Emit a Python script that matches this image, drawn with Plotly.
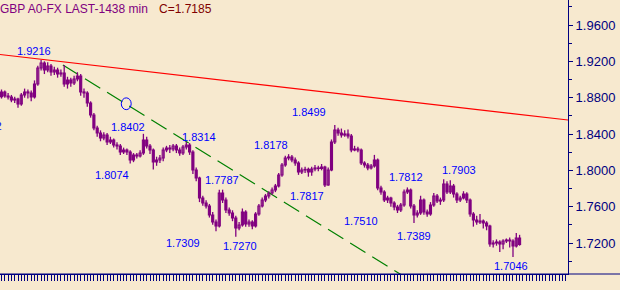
import plotly.graph_objects as go

# ---- data (GBP, 1438-min bars) ----
opens = [1.8810,1.8863,1.8818,1.8807,1.8774,1.8785,1.8730,1.8829,1.8863,1.8852,
 1.8807,1.8951,1.9127,1.9182,1.9105,1.9149,1.9083,1.9105,1.9061,1.9072,
 1.8951,1.8995,1.8962,1.9006,1.9039,1.8863,1.8852,1.8741,1.8609,1.8466,
 1.8411,1.8356,1.8389,1.8312,1.8334,1.8279,1.8268,1.8202,1.8224,1.8202,
 1.8114,1.8169,1.8158,1.8191,1.8334,1.8268,1.8224,1.8092,1.8114,1.8136,
 1.8224,1.8246,1.8235,1.8268,1.8224,1.8191,1.8257,1.8279,1.8202,1.8004,
 1.7916,1.7695,1.7640,1.7607,1.7508,1.7431,1.7387,1.7751,1.7673,1.7563,
 1.7530,1.7475,1.7365,1.7398,1.7541,1.7409,1.7431,1.7387,1.7519,1.7607,
 1.7673,1.7717,1.7751,1.7784,1.7828,1.7949,1.8059,1.8136,1.8147,1.8114,
 1.8081,1.7982,1.8004,1.8010,1.7982,1.8015,1.8026,1.8020,1.8037,1.7839,
 1.8004,1.8312,1.8444,1.8411,1.8389,1.8400,1.8378,1.8224,1.8235,1.8224,
 1.8081,1.8059,1.8026,1.8048,1.8114,1.7806,1.7762,1.7673,1.7695,1.7640,
 1.7596,1.7563,1.7618,1.7762,1.7784,1.7607,1.7508,1.7530,1.7673,1.7541,
 1.7519,1.7618,1.7717,1.7662,1.7673,1.7850,1.7762,1.7828,1.7739,1.7673,
 1.7695,1.7739,1.7673,1.7519,1.7453,1.7431,1.7442,1.7420,1.7387,1.7189,
 1.7200,1.7211,1.7189,1.7222,1.7233,1.7222,1.7167,1.7255]

highs = [1.8890,1.8880,1.8850,1.8830,1.8810,1.8800,1.8850,1.8900,1.8890,1.8880,
 1.8990,1.9150,1.9216,1.9200,1.9190,1.9170,1.9140,1.9130,1.9110,1.9160,
 1.9030,1.9020,1.9040,1.9080,1.9060,1.8900,1.8870,1.8760,1.8630,1.8490,
 1.8440,1.8420,1.8410,1.8370,1.8350,1.8310,1.8290,1.8250,1.8240,1.8220,
 1.8190,1.8190,1.8220,1.8402,1.8370,1.8290,1.8240,1.8150,1.8170,1.8250,
 1.8270,1.8280,1.8290,1.8290,1.8250,1.8280,1.8314,1.8300,1.8220,1.8030,
 1.7930,1.7720,1.7670,1.7630,1.7540,1.7460,1.7787,1.7787,1.7700,1.7590,
 1.7560,1.7500,1.7430,1.7580,1.7560,1.7460,1.7450,1.7540,1.7630,1.7700,
 1.7740,1.7770,1.7810,1.7850,1.7970,1.8080,1.8160,1.8178,1.8170,1.8140,
 1.8100,1.8030,1.8040,1.8030,1.8040,1.8060,1.8050,1.8070,1.8050,1.8030,
 1.8340,1.8499,1.8470,1.8460,1.8440,1.8450,1.8400,1.8270,1.8260,1.8240,
 1.8100,1.8080,1.8070,1.8170,1.8130,1.7830,1.7780,1.7720,1.7710,1.7660,
 1.7620,1.7640,1.7790,1.7812,1.7800,1.7630,1.7560,1.7720,1.7690,1.7570,
 1.7650,1.7750,1.7740,1.7700,1.7903,1.7880,1.7890,1.7850,1.7760,1.7720,
 1.7770,1.7760,1.7690,1.7540,1.7500,1.7520,1.7460,1.7440,1.7400,1.7230,
 1.7240,1.7230,1.7240,1.7250,1.7260,1.7240,1.7310,1.7290]

lows = [1.8790,1.8800,1.8780,1.8750,1.8740,1.8690,1.8710,1.8800,1.8790,1.8760,
 1.8790,1.8930,1.9100,1.9060,1.9080,1.9040,1.9050,1.9020,1.9030,1.8920,
 1.8900,1.8920,1.8940,1.8980,1.8820,1.8800,1.8700,1.8580,1.8440,1.8370,
 1.8320,1.8330,1.8280,1.8290,1.8250,1.8230,1.8170,1.8180,1.8170,1.8074,
 1.8090,1.8130,1.8140,1.8170,1.8240,1.8180,1.8010,1.8050,1.8080,1.8100,
 1.8200,1.8190,1.8210,1.8190,1.8160,1.8170,1.8230,1.8170,1.7960,1.7880,
 1.7650,1.7610,1.7580,1.7480,1.7400,1.7330,1.7370,1.7640,1.7530,1.7500,
 1.7440,1.7270,1.7340,1.7380,1.7380,1.7380,1.7350,1.7370,1.7500,1.7590,
 1.7650,1.7690,1.7730,1.7760,1.7810,1.7930,1.8040,1.8110,1.8090,1.8050,
 1.7950,1.7960,1.7970,1.7930,1.7940,1.7990,1.7990,1.8000,1.7817,1.7830,
 1.7990,1.8290,1.8380,1.8360,1.8370,1.8350,1.8200,1.8210,1.8200,1.8060,
 1.8030,1.8000,1.8010,1.8030,1.7780,1.7730,1.7650,1.7640,1.7600,1.7560,
 1.7530,1.7540,1.7600,1.7740,1.7580,1.7420,1.7480,1.7510,1.7510,1.7490,
 1.7500,1.7600,1.7640,1.7620,1.7650,1.7740,1.7740,1.7700,1.7640,1.7650,
 1.7680,1.7640,1.7490,1.7380,1.7400,1.7410,1.7360,1.7340,1.7160,1.7150,
 1.7170,1.7100,1.7130,1.7200,1.7150,1.7046,1.7150,1.7170]

closes = [1.8863,1.8818,1.8807,1.8774,1.8785,1.8730,1.8829,1.8863,1.8852,1.8807,
 1.8951,1.9127,1.9182,1.9105,1.9149,1.9083,1.9105,1.9061,1.9072,1.8951,
 1.8995,1.8962,1.9006,1.9039,1.8863,1.8852,1.8741,1.8609,1.8466,1.8411,
 1.8356,1.8389,1.8312,1.8334,1.8279,1.8268,1.8202,1.8224,1.8202,1.8114,
 1.8169,1.8158,1.8191,1.8334,1.8268,1.8224,1.8092,1.8114,1.8136,1.8224,
 1.8246,1.8235,1.8268,1.8224,1.8191,1.8257,1.8279,1.8202,1.8004,1.7916,
 1.7695,1.7640,1.7607,1.7508,1.7431,1.7387,1.7751,1.7673,1.7563,1.7530,
 1.7475,1.7365,1.7398,1.7541,1.7409,1.7431,1.7387,1.7519,1.7607,1.7673,
 1.7717,1.7751,1.7784,1.7828,1.7949,1.8059,1.8136,1.8147,1.8114,1.8081,
 1.7982,1.8004,1.8010,1.7982,1.8015,1.8026,1.8020,1.8037,1.7839,1.8004,
 1.8312,1.8444,1.8411,1.8389,1.8400,1.8378,1.8224,1.8235,1.8224,1.8081,
 1.8059,1.8026,1.8048,1.8114,1.7806,1.7762,1.7673,1.7695,1.7640,1.7596,
 1.7563,1.7618,1.7762,1.7784,1.7607,1.7508,1.7530,1.7673,1.7541,1.7519,
 1.7618,1.7717,1.7662,1.7673,1.7850,1.7762,1.7828,1.7739,1.7673,1.7695,
 1.7739,1.7673,1.7519,1.7453,1.7431,1.7442,1.7420,1.7387,1.7189,1.7200,
 1.7211,1.7189,1.7222,1.7233,1.7222,1.7167,1.7255,1.7185]

bars = list(range(len(closes)))

# pivot labels: text, bar position, price position
pivot_text = ["1.9216", "1.8402", "1.8074", "1.8314", "1.7787", "1.7309", "1.7270",
              "1.8178", "1.7817", "1.8499", "1.7510", "1.7812", "1.7389", "1.7903", "1.7046"]
pivot_x = [9.9, 38.3, 33.5, 59.8, 66.8, 55.0, 72.3, 81.7, 92.6, 93.2, 109.0, 122.6, 125.0, 138.6, 154.4]
pivot_y = [1.9314, 1.8477, 1.7949, 1.8367, 1.7894, 1.7200, 1.7167, 1.8279, 1.7717, 1.8642,
           1.7442, 1.7927, 1.7277, 1.8004, 1.6947]

# trend lines
red_x = [-0.45, 171.7]
red_y = [1.9275, 1.8554]
green_x = [18.6, 124.0]
green_y = [1.9160, 1.6786]

y_ticks = [1.72, 1.76, 1.80, 1.84, 1.88, 1.92, 1.96]
y_ticktext = ["1.7200", "1.7600", "1.8000", "1.8400", "1.8800", "1.9200", "1.9600"]

BG = "#F7E9CF"
PURPLE = "#800080"
NAVY = "#000080"
BLUE = "#0000FF"
FONT = "Liberation Sans, Arial, sans-serif"

# candle geometry derived from OHLC
body_base = [min(o, c) for o, c in zip(opens, closes)]
body_len = [abs(c - o) for o, c in zip(opens, closes)]
body_fill = [BG if c >= o else PURPLE for o, c in zip(opens, closes)]
wick_x, wick_y = [], []
for i, h, l in zip(bars, highs, lows):
    wick_x += [i, i, None]
    wick_y += [l, h, None]

fig = go.Figure()
fig.add_trace(go.Scatter(x=red_x, y=red_y, mode="lines",
                         line=dict(color="#FF0000", width=1.2), hoverinfo="skip"))
fig.add_trace(go.Scatter(x=green_x, y=green_y, mode="lines",
                         line=dict(color="#008000", width=1.2, dash="18px,8px"), hoverinfo="skip"))
fig.add_trace(go.Scatter(x=wick_x, y=wick_y, mode="lines",
                         line=dict(color=PURPLE, width=1.3), hoverinfo="skip"))
fig.add_trace(go.Bar(x=bars, y=body_len, base=body_base, width=0.62,
                     marker=dict(color=body_fill, line=dict(color=PURPLE, width=1.1)),
                     hoverinfo="skip"))

annotations = []
for t, xx, yy in zip(pivot_text, pivot_x, pivot_y):
    annotations.append(dict(x=xx, y=yy, xref="x", yref="y", text=t, showarrow=False,
                            font=dict(family=FONT, size=11, color=BLUE),
                            xanchor="center", yanchor="middle"))
# partially visible label at left edge (only its last digit shows)
annotations.append(dict(x=0.9, y=1.8488, xref="x", yref="y", text="1.8482", showarrow=False,
                        font=dict(family=FONT, size=11, color=BLUE),
                        xanchor="right", yanchor="middle"))
# header
annotations.append(dict(x=-0.003, y=1.0, xref="paper", yref="paper", text="GBP A0-FX LAST-1438 min",
                        showarrow=False, font=dict(family=FONT, size=12, color="#800080"),
                        xanchor="left", yanchor="top"))
annotations.append(dict(x=157 / 568, y=1.0, xref="paper", yref="paper", text="C=1.7185",
                        showarrow=False, font=dict(family=FONT, size=12, color="#800000"),
                        xanchor="left", yanchor="top"))

shapes = [
    dict(type="line", xref="paper", yref="paper", x0=0, x1=620 / 568, y0=0, y1=0,
         line=dict(color=NAVY, width=1)),
    dict(type="circle", xref="x", yref="y", x0=36.3, x1=39.3, y0=1.8668, y1=1.8798,
         line=dict(color=BLUE, width=1)),
]

fig.update_layout(
    width=620, height=290,
    margin=dict(l=0, r=52, t=0, b=16),
    paper_bgcolor=BG, plot_bgcolor=BG,
    showlegend=False,
    barmode="overlay",
    annotations=annotations,
    shapes=shapes,
    xaxis=dict(range=[-0.4545, 171.67], showgrid=False, zeroline=False,
               showticklabels=False,
               tickmode="linear", tick0=0, dtick=1, ticks="outside", ticklen=6,
               tickcolor=NAVY, tickwidth=1, showline=True, linecolor=NAVY, linewidth=1,
               fixedrange=True),
    yaxis=dict(range=[1.68587, 1.98752], side="right", showgrid=False, zeroline=False,
               tickmode="array", tickvals=y_ticks, ticktext=y_ticktext,
               ticks="outside", ticklen=4, tickcolor=NAVY, tickwidth=1,
               tickfont=dict(family=FONT, size=13, color=NAVY),
               showline=True, linecolor=NAVY, linewidth=1,
               minor=dict(tickmode="linear", tick0=1.70, dtick=0.02, ticks="outside",
                          ticklen=3, tickcolor=NAVY, tickwidth=1),
               fixedrange=True),
)

fig.write_html("out.html")
